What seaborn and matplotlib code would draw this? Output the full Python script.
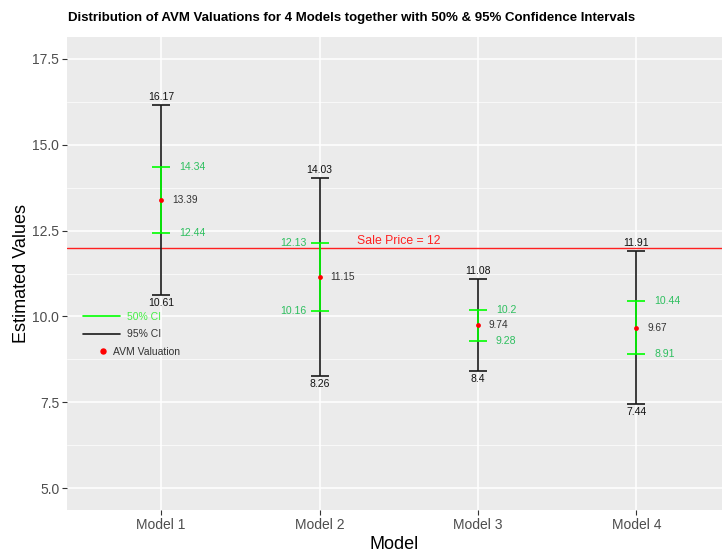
import numpy as np
import pandas as pd
import seaborn as sns
import matplotlib
matplotlib.use("Agg")
import matplotlib.pyplot as plt
from matplotlib.lines import Line2D
from matplotlib.ticker import MultipleLocator

# ---- data ----
models = ["Model 1", "Model 2", "Model 3", "Model 4"]
avm = [13.39, 11.15, 9.74, 9.67]
ci95_low = [10.61, 8.26, 8.40, 7.44]
ci95_high = [16.17, 14.03, 11.08, 11.91]
ci50_low = [12.44, 10.16, 9.28, 8.91]
ci50_high = [14.34, 12.13, 10.20, 10.44]
ci50_label_side = ["right", "left", "right", "right"]
sale_price = 12
y_ticks = [5.0, 7.5, 10.0, 12.5, 15.0, 17.5]

df = pd.DataFrame({"Model": models, "AVM": avm,
                   "lo95": ci95_low, "hi95": ci95_high,
                   "lo50": ci50_low, "hi50": ci50_high})

sns.set_theme(style="darkgrid", rc={
    "axes.facecolor": "#EBEBEB",
    "grid.color": "white",
    "axes.edgecolor": "#EBEBEB",
})
plt.rcParams["font.family"] = ["Liberation Sans", "DejaVu Sans"]

fig = plt.figure(figsize=(7.22, 5.52), dpi=100)
ax = fig.add_axes([67 / 722, 1 - 510 / 552, 1 - 67 / 722, (510 - 37) / 552])

xpos = np.arange(len(models))
mid = np.array(avm)

# 95% CI
ax.errorbar(xpos, mid, yerr=[mid - np.array(ci95_low), np.array(ci95_high) - mid],
            fmt="none", ecolor="#1a1a1a", elinewidth=1.2, capsize=6.5, capthick=1.2, zorder=3)
# 50% CI
ax.errorbar(xpos, mid, yerr=[mid - np.array(ci50_low), np.array(ci50_high) - mid],
            fmt="none", ecolor="#00FF00", elinewidth=1.2, capsize=6.5, capthick=1.2, zorder=4)
# points
sns.scatterplot(data=df, x="Model", y="AVM", color="red", s=12, linewidth=0, ax=ax, zorder=5)

# Sale price line
ax.axhline(sale_price, color="#FF2020", lw=1.0, zorder=2)
ax.text(1.234, sale_price + 0.03, f"Sale Price = {sale_price}", color="#FF2020",
        fontsize=8.8, ha="left", va="bottom", zorder=6)

green_txt = "#2EBF5F"
for i in range(len(models)):
    ax.annotate(f"{ci95_high[i]:g}", (xpos[i], ci95_high[i]), xytext=(0, 3),
                textcoords="offset pixels", ha="center", va="bottom", fontsize=7.5, color="#111111")
    ax.annotate(f"{ci95_low[i]:g}", (xpos[i], ci95_low[i]), xytext=(0, -3),
                textcoords="offset pixels", ha="center", va="top", fontsize=7.5, color="#111111")
    ax.annotate(f"{avm[i]:g}", (xpos[i], avm[i]), xytext=(11, 0),
                textcoords="offset pixels", ha="left", va="center", fontsize=7.3, color="#333333")
    if ci50_label_side[i] == "right":
        dx, ha = 18, "left"
    else:
        dx, ha = -13, "right"
    for v in (ci50_high[i], ci50_low[i]):
        ax.annotate(f"{v:g}", (xpos[i], v), xytext=(dx, 0),
                    textcoords="offset pixels", ha=ha, va="center", fontsize=7.6, color=green_txt)

ax.set_xlim(-0.594, 3.54)
ax.set_ylim(4.36, 18.14)
ax.set_yticks(y_ticks)
ax.set_yticklabels([f"{t:.1f}" for t in y_ticks])
ax.yaxis.set_minor_locator(MultipleLocator(1.25))
ax.grid(which="major", color="white", lw=1.1)
ax.grid(which="minor", axis="y", color="white", lw=0.5)
ax.tick_params(axis="both", which="major", length=3.5, width=0.8, color="#333333",
               labelsize=10, labelcolor="#4D4D4D", pad=2, bottom=True, left=True)
ax.tick_params(axis="y", which="minor", length=0)
for s in ax.spines.values():
    s.set_visible(False)

ax.set_xlabel("Model", fontsize=13, color="black", labelpad=3)
ax.set_ylabel("Estimated Values", fontsize=13, color="black", labelpad=2)

fig.text(68 / 722, 1 - 18 / 552, "Distribution of AVM Valuations for 4 Models together with 50% & 95% Confidence Intervals",
         fontsize=9.55, fontweight="bold", ha="left", va="center", color="black")

# legend for the CI lines
h_lines = [Line2D([0], [0], color="#00FF00", lw=1.2),
           Line2D([0], [0], color="#1a1a1a", lw=1.2)]
leg1 = ax.legend(h_lines, ["50% CI", "95% CI"], loc="upper left",
                 bbox_to_anchor=(0.0244, 0.419), frameon=False, fontsize=7.5, borderpad=0,
                 borderaxespad=0, handlelength=3.6, handletextpad=0.6, labelspacing=0.72)
for t, c in zip(leg1.get_texts(), ["#44EE44", "#333333"]):
    t.set_color(c)
ax.add_artist(leg1)

# legend for the point
h_pt = [Line2D([0], [0], color="red", marker="o", markersize=3.6, linestyle="none")]
leg2 = ax.legend(h_pt, ["AVM Valuation"], loc="upper left",
                 bbox_to_anchor=(0.047, 0.345), frameon=False, fontsize=7.5, borderpad=0,
                 borderaxespad=0, handlelength=1.0, handletextpad=0.46)
leg2.get_texts()[0].set_color("#333333")

fig.savefig("out.png", dpi=100)
